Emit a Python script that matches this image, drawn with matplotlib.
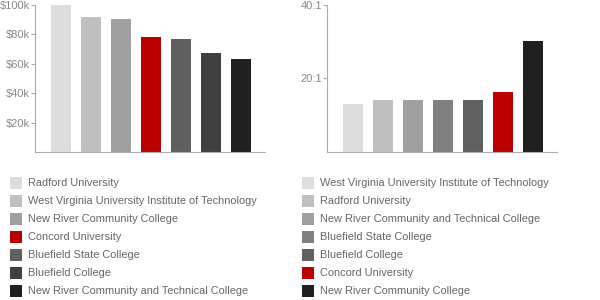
import matplotlib.pyplot as plt
from matplotlib.patches import Rectangle
from matplotlib.ticker import FuncFormatter

plt.rcParams['font.family'] = ['Liberation Sans', 'DejaVu Sans']

# left chart: salary
sal_names = ["Radford University",
             "West Virginia University Institute of Technology",
             "New River Community College",
             "Concord University",
             "Bluefield State College",
             "Bluefield College",
             "New River Community and Technical College"]
sal_values = [100000, 91600, 90300, 78400, 76900, 67600, 63500]
sal_colors = ["#dddddd", "#bfbfbf", "#a0a0a0", "#bb0000", "#5f5f5f", "#404040", "#202020"]

# right chart: student / faculty ratio
rat_names = ["West Virginia University Institute of Technology",
             "Radford University",
             "New River Community and Technical College",
             "Bluefield State College",
             "Bluefield College",
             "Concord University",
             "New River Community College"]
rat_values = [13.0, 14.1, 14.1, 14.1, 14.1, 16.2, 30.1]
rat_colors = ["#dddddd", "#bfbfbf", "#a0a0a0", "#808080", "#606060", "#bb0000", "#202020"]

W, H = 600, 300
fig = plt.figure(figsize=(6, 3), dpi=100)

axis_col = "#aaaaaa"
label_col = "#888888"
text_col = "#666666"


def style(ax):
    for s in ["top", "right"]:
        ax.spines[s].set_visible(False)
    for s in ["left", "bottom"]:
        ax.spines[s].set_color(axis_col)
    ax.tick_params(axis="y", length=3, color=axis_col, labelcolor=label_col,
                   labelsize=8, pad=0.5)
    ax.tick_params(axis="x", length=0, labelbottom=False)


ax1 = fig.add_axes([35 / W, (H - 152) / H, 230 / W, 147 / H])
ax1.bar(range(len(sal_values)), sal_values, width=20 / 30, color=sal_colors)
ax1.set_xlim(-26 / 30, 204 / 30)
ax1.set_ylim(0, 100000)
ax1.set_yticks([20000, 40000, 60000, 80000, 100000])
ax1.yaxis.set_major_formatter(FuncFormatter(lambda v, p: "$%dk" % (v / 1000)))
style(ax1)

ax2 = fig.add_axes([326.7 / W, (H - 152) / H, 230.3 / W, 147.4 / H])
ax2.bar(range(len(rat_values)), rat_values, width=20 / 30, color=rat_colors)
ax2.set_xlim(-26.3 / 30, 204 / 30)
ax2.set_ylim(0, 40)
ax2.set_yticks([20, 40])
ax2.yaxis.set_major_formatter(FuncFormatter(lambda v, p: "%d:1" % v))
style(ax2)

# legends
for x0, names, colors in [(10, sal_names, sal_colors), (302, rat_names, rat_colors)]:
    for i, (n, c) in enumerate(zip(names, colors)):
        yc = 183 + 18 * i
        fig.add_artist(Rectangle((x0 / W, (H - yc - 6) / H), 12 / W, 12 / H,
                                 transform=fig.transFigure, color=c, lw=0))
        fig.text((x0 + 18) / W, (H - yc) / H, n, color=text_col, fontsize=7.9,
                 va="center", ha="left")

fig.savefig("out.png", dpi=100)
